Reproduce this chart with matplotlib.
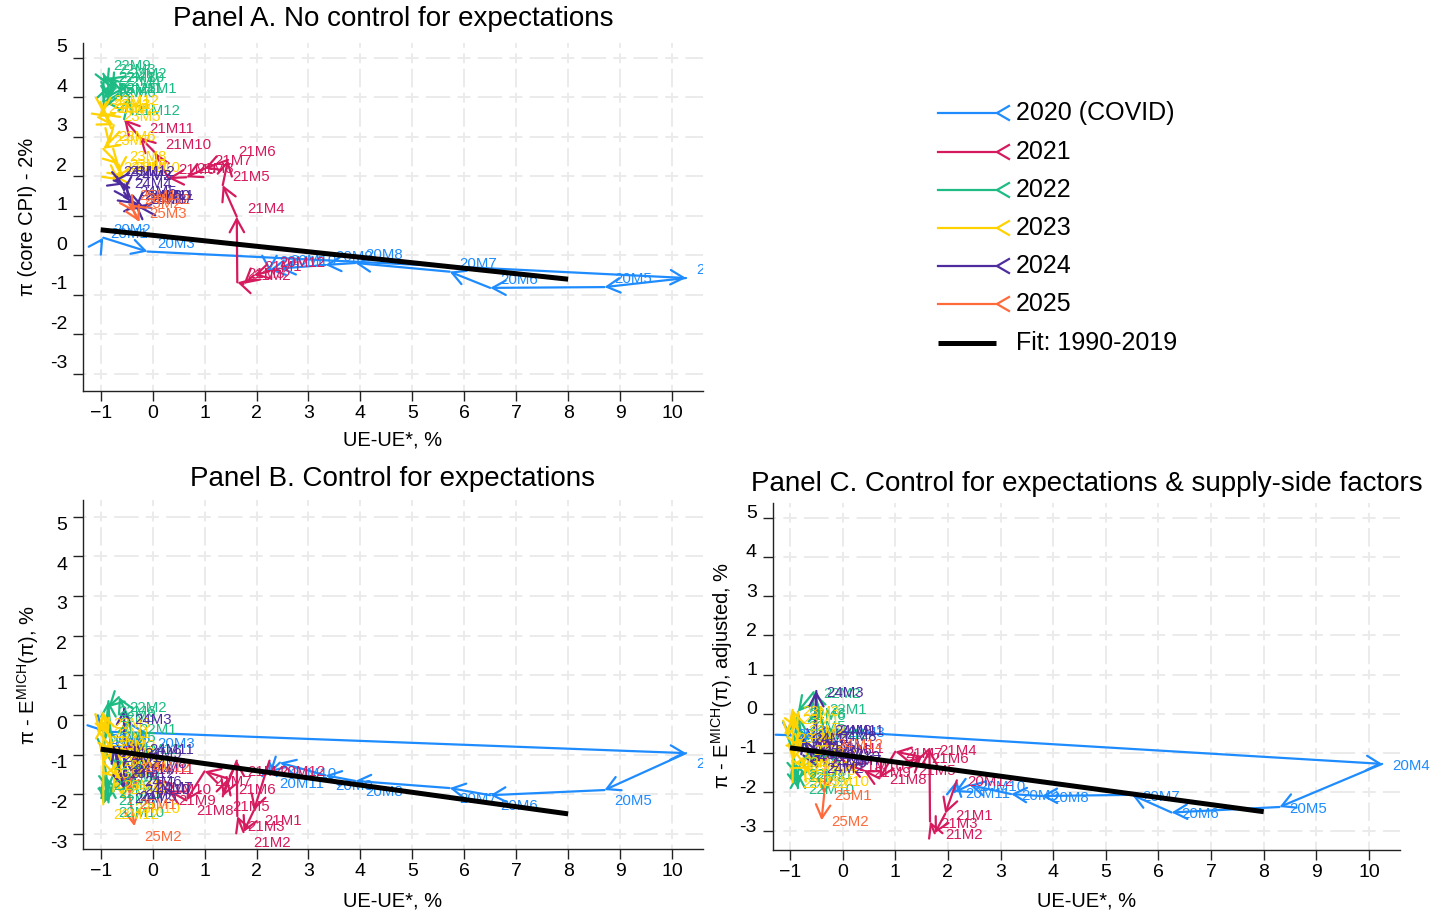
import matplotlib
matplotlib.use("Agg")
import matplotlib.pyplot as plt
from matplotlib.patches import FancyArrowPatch, ArrowStyle
from matplotlib.transforms import Bbox

plt.rcParams["font.family"] = ["Liberation Sans", "DejaVu Sans"]
plt.rcParams["lines.scale_dashes"] = False
plt.rcParams["mathtext.fontset"] = "custom"
plt.rcParams["mathtext.rm"] = "Liberation Sans"

# ---------------------------------------------------------------- data
YEAR_NAMES = ["2020 (COVID)", "2021", "2022", "2023", "2024", "2025"]
YEAR_COLORS = ["#1E8CFF", "#D61A5E", "#1DBC84", "#FFD200", "#4E2C9E", "#FF6A3A"]
MONTH_LABELS = [f"{yy}M{m}" for yy in range(20, 26) for m in range(1, 13)][:63]

X_TICKS = list(range(-1, 11))
Y_TICKS = list(range(-3, 6))

FIT_X = [-1.0, 8.0]
FIT_A = [0.65, -0.60]
FIT_B = [-0.86, -2.49]
FIT_C = [-0.87, -2.50]

# unemployment gap UE-UE*, 2020M1 .. 2025M3
ue_gap = [
    -1.00, -0.95, -0.10, 10.27, 8.70, 6.50, 5.72, 3.90, 3.33, 2.45, 2.25, 2.25,
    1.95, 1.75, 1.63, 1.62, 1.35, 1.45, 1.00, 0.65, 0.30, 0.05, -0.25, -0.55,
    -0.45, -0.65, -0.85, -0.75, -0.85, -0.85, -0.95, -0.85, -0.95, -0.85, -0.85, -0.95,
    -0.95, -0.85, -0.95, -1.05, -0.75, -0.85, -0.95, -0.65, -0.65, -0.55, -0.75, -0.65,
    -0.75, -0.55, -0.55, -0.55, -0.45, -0.35, -0.15, -0.25, -0.35, -0.35, -0.25, -0.35,
    -0.45, -0.35, -0.25,
]
# unemployment gap used in the supply-side adjusted panel, 2020M1 .. 2025M2
ue_gap_c = [
    -1.05, -0.95, -0.10, 10.25, 8.30, 6.25, 5.50, 3.78, 3.20, 2.41, 2.13, 2.17,
    1.95, 1.75, 1.66, 1.65, 1.25, 1.50, 1.00, 0.70, 0.40, 0.10, -0.25, -0.55,
    -0.45, -0.55, -0.85, -0.75, -0.85, -0.85, -0.95, -0.85, -0.95, -0.85, -0.85, -0.95,
    -0.95, -0.85, -0.95, -1.05, -0.75, -0.85, -0.95, -0.65, -0.65, -0.55, -0.75, -0.65,
    -0.75, -0.50, -0.50, -0.55, -0.45, -0.35, -0.15, -0.25, -0.35, -0.35, -0.25, -0.30,
    -0.35, -0.40,
]

# core CPI inflation minus 2%, 2020M1 .. 2025M3
infl_a = [
    0.35, 0.45, 0.10, -0.57, -0.80, -0.82, -0.41, -0.19, -0.24, -0.33, -0.37, -0.40,
    -0.50, -0.72, -0.68, 0.98, 1.78, 2.42, 2.20, 1.98, 1.96, 2.60, 3.00, 3.45,
    4.00, 4.40, 4.50, 4.20, 4.00, 3.90, 3.90, 4.30, 4.60, 4.30, 4.00, 3.70,
    3.60, 3.50, 3.60, 3.50, 3.30, 2.80, 2.70, 2.30, 2.10, 2.00, 2.00, 1.90,
    1.90, 1.80, 1.80, 1.60, 1.40, 1.30, 1.20, 1.20, 1.30, 1.30, 1.30, 1.20,
    1.30, 1.10, 0.85,
]
# inflation minus Michigan expectations, 2020M1 .. 2025M2
infl_b = [
    -0.35, -0.42, -0.45, -0.96, -1.89, -2.02, -1.84, -1.66, -1.52, -1.20, -1.45, -1.15,
    -2.40, -2.95, -2.55, -1.15, -2.05, -1.60, -1.42, -2.15, -1.90, -1.60, -1.10, -0.60,
    -0.10, 0.45, 0.20, -1.30, -0.30, 0.35, -1.00, -1.90, -1.50, -2.20, -1.70, -2.25,
    -0.20, -0.50, 0.05, -0.40, -0.90, -0.70, -1.20, -1.60, -1.00, -2.10, -1.50, -1.20,
    -0.80, -1.85, 0.15, -1.10, -1.80, -1.40, -1.55, -0.95, -0.70, -1.60, -0.60, -1.05,
    -2.00, -2.80,
]
# inflation minus expectations, adjusted for supply-side factors, 2020M1 .. 2025M2
infl_c = [
    -0.50, -0.58, -0.45, -1.28, -2.38, -2.52, -2.07, -2.10, -2.05, -1.82, -2.00, -1.70,
    -2.55, -3.05, -2.75, -0.90, -1.40, -1.10, -0.97, -1.65, -1.45, -1.30, -0.85, -0.50,
    0.15, 0.55, 0.05, -0.90, -0.30, 0.00, -1.00, -1.60, -1.20, -1.90, -1.50, -1.75,
    -0.10, -0.40, 0.10, -0.60, -0.90, -0.50, -1.20, -1.40, -0.90, -1.70, -1.30, -1.00,
    -0.60, -1.35, 0.58, -0.80, -1.20, -0.90, -1.15, -0.55, -0.40, -1.05, -0.40, -0.75,
    -2.05, -2.72,
]

# ---------------------------------------------------------------- figure
W, H, DPI = 1445, 915, 100
PT = 72 / DPI
GRID = "#EBEBEB"
AXC = "#222222"
LW = 1.6

fig = plt.figure(figsize=(W / DPI, H / DPI), dpi=DPI)
fig.patch.set_facecolor("white")


def rect(g):
    l, t, r, b = g
    return [l / W, 1 - b / H, (r - l) / W, (b - t) / H]


def setup_axes(geom, xr, yr, tick_dy):
    ax = fig.add_axes(rect(geom))
    ax.set_xlim(*xr)
    ax.set_ylim(*yr)
    ax.set_facecolor("white")
    for s in ("top", "right"):
        ax.spines[s].set_visible(False)
    for s in ("left", "bottom"):
        ax.spines[s].set_color(AXC)
        ax.spines[s].set_linewidth(1.0)
    ax.set_xticks(X_TICKS)
    ax.set_yticks(Y_TICKS)
    ax.set_yticklabels([])
    ax.tick_params(direction="out", length=7, width=1.0, color=AXC,
                   labelsize=14, pad=3)
    for v in Y_TICKS:
        ax.annotate(str(v), (0, v), xycoords=("axes fraction", "data"),
                    xytext=(-16 * PT, tick_dy * PT), textcoords="offset points",
                    ha="right", va="center", fontsize=14, color="black")

    # dashed grid with a cross centred on every intersection
    l, t, r, b = geom
    pxu = (r - l) / (xr[1] - xr[0])
    pyu = (b - t) / (yr[1] - yr[0])
    for val in Y_TICKS:
        P = pxu
        d0 = (X_TICKS[0] - xr[0]) * P
        off = (0.125 * P - d0) % P
        pat = [0.25 * P * PT, 0.14 * P * PT, 0.47 * P * PT, 0.14 * P * PT]
        ax.plot(xr, [val, val], color=GRID, lw=1.4, linestyle=(off * PT, pat),
                zorder=0.5)
    for val in X_TICKS:
        P = pyu
        d0 = (Y_TICKS[0] - yr[0]) * P
        off = (0.125 * P - d0) % P
        pat = [0.25 * P * PT, 0.14 * P * PT, 0.47 * P * PT, 0.14 * P * PT]
        ax.plot([val, val], yr, color=GRID, lw=1.4, linestyle=(off * PT, pat),
                zorder=0.5)
    return ax


def draw_path(ax, xs, ys, fit_y, label_dy, clip_box=None):
    n = len(xs)
    style = ArrowStyle("->", head_length=9.5, head_width=5.2)
    for i in range(n - 1):
        col = YEAR_COLORS[(i + 1) // 12]
        ax.add_patch(FancyArrowPatch((xs[i], ys[i]), (xs[i + 1], ys[i + 1]),
                                     arrowstyle=style, mutation_scale=1,
                                     color=col, lw=LW, shrinkA=0, shrinkB=0,
                                     zorder=2))
    for i in range(n):
        col = YEAR_COLORS[min(i + 1, n - 1) // 12]
        t = ax.annotate(MONTH_LABELS[i], (xs[i], ys[i]),
                        xytext=(10 * PT, -label_dy * PT), textcoords="offset points",
                        color=col, fontsize=10.8, ha="left", va="center",
                        zorder=3, clip_on=clip_box is None)
        if clip_box is not None:
            t.set_clip_on(True)
            t.set_clip_box(clip_box)
    ax.plot(FIT_X, fit_y, color="black", lw=3.6, solid_capstyle="butt", zorder=4)


GEOM_A = (83.3, 42.7, 703.0, 390.7)
GEOM_B = (83.3, 500.0, 703.0, 849.0)
GEOM_C = (773.0, 502.7, 1400.0, 850.0)

ax_a = setup_axes(GEOM_A, (-1.335, 10.597), (-3.423, 5.387), 10)
ax_b = setup_axes(GEOM_B, (-1.335, 10.597), (-3.375, 5.416), -9)
ax_c = setup_axes(GEOM_C, (-1.323, 10.589), (-3.477, 5.383), 4)

draw_path(ax_a, ue_gap, infl_a, FIT_A, -8)
draw_path(ax_b, ue_gap[:62], infl_b, FIT_B, 11)
draw_path(ax_c, ue_gap_c, infl_c, FIT_C, 2,
          clip_box=Bbox([[0, 0], [1430, H]]))

# ---------------------------------------------------------------- annotations
lax = fig.add_axes([0, 0, 1, 1], zorder=5)
lax.set_xlim(0, W)
lax.set_ylim(H, 0)
lax.axis("off")
lax.patch.set_visible(False)

lax.text(393, 19, "Panel A. No control for expectations", ha="center", va="center", fontsize=20)
lax.text(393, 479, "Panel B. Control for expectations", ha="center", va="center", fontsize=20)
lax.text(1087, 484, "Panel C. Control for expectations & supply-side factors",
         ha="center", va="center", fontsize=20)

for x, y in ((393, 440), (393, 901), (1087, 901)):
    lax.text(x, y, "UE-UE*, %", ha="center", va="center", fontsize=14.5)

lax.text(28, 216.7, "π (core CPI) - 2%", ha="center", va="center", rotation=90, fontsize=14.5)
lax.text(28, 675, r"π - E$^{\mathregular{MICH}}$(π), %", ha="center", va="center",
         rotation=90, fontsize=14.5)
lax.text(722, 676, r"π - E$^{\mathregular{MICH}}$(π), adjusted, %", ha="center",
         va="center", rotation=90, fontsize=14.5)

# legend
LEG_Y = [113, 152, 190, 228, 266, 304]
for y, name, col in zip(LEG_Y, YEAR_NAMES, YEAR_COLORS):
    lax.plot([938, 997], [y, y], color=col, lw=LW)
    lax.plot([1009, 997, 1009], [y - 7, y, y + 7], color=col, lw=LW)
    lax.text(1016, y, name, ha="left", va="center", fontsize=18)
lax.plot([938, 996], [343, 343], color="black", lw=3.6, solid_capstyle="butt")
lax.text(1016, 343, "Fit: 1990-2019", ha="left", va="center", fontsize=18)

fig.savefig("out.png", dpi=DPI, facecolor="white")
